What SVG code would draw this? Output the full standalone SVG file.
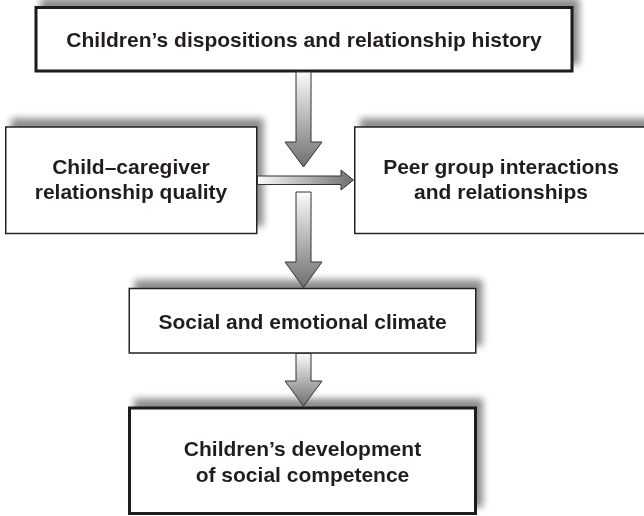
<svg xmlns="http://www.w3.org/2000/svg" width="644" height="516" viewBox="0 0 644 516">
  <defs>
    <!-- soft drop shadow cast up and to the right -->
    <filter id="shadow" x="-10%" y="-30%" width="120%" height="160%">
      <feGaussianBlur in="SourceAlpha" stdDeviation="3.5" result="b"/>
      <feOffset in="b" dx="6" dy="-8" result="o"/>
      <feComponentTransfer in="o" result="s">
        <feFuncA type="linear" slope="0.45"/>
      </feComponentTransfer>
      <feMerge>
        <feMergeNode in="s"/>
        <feMergeNode in="SourceGraphic"/>
      </feMerge>
    </filter>
    <linearGradient id="gradDown" x1="0" y1="0" x2="0" y2="1">
      <stop offset="0" stop-color="#fbfbfb"/>
      <stop offset="1" stop-color="#6f6f6f"/>
    </linearGradient>
    <linearGradient id="gradRight" x1="0" y1="0" x2="1" y2="0">
      <stop offset="0" stop-color="#fbfbfb"/>
      <stop offset="1" stop-color="#6f6f6f"/>
    </linearGradient>
  </defs>
  <style>
    .box { fill: #ffffff; stroke: #222222; stroke-width: 1.5; }
    .box-strong { fill: #ffffff; stroke: #1a1a1a; stroke-width: 3; }
    .label { font-family: "Liberation Sans", Arial, sans-serif; font-weight: bold; font-size: 21px; fill: #231f20; text-anchor: middle; }
    .arrow-v { fill: url(#gradDown); stroke: #333333; stroke-width: 1; stroke-linejoin: miter; }
    .arrow-h { fill: url(#gradRight); stroke: #333333; stroke-width: 1; stroke-linejoin: miter; }
  </style>

  <rect width="644" height="516" fill="#ffffff"/>

  <g id="node-dispositions" filter="url(#shadow)">
    <rect class="box-strong" x="36" y="7.5" width="536" height="63.5"/>
    <text class="label" x="304" y="46.5">Children’s dispositions and relationship history</text>
  </g>

  <g id="node-caregiver" filter="url(#shadow)">
    <rect class="box" x="5.75" y="127" width="251" height="106.5"/>
    <text class="label" x="131" y="174">Child–caregiver</text>
    <text class="label" x="131" y="199">relationship quality</text>
  </g>

  <g id="node-peer" filter="url(#shadow)">
    <rect class="box" x="354.75" y="127" width="296" height="106.5"/>
    <text class="label" x="501" y="174">Peer group interactions</text>
    <text class="label" x="501" y="199">and relationships</text>
  </g>

  <g id="node-climate" filter="url(#shadow)">
    <rect class="box" x="129.25" y="288.5" width="346.5" height="64.5"/>
    <text class="label" x="302.5" y="328.5">Social and emotional climate</text>
  </g>

  <g id="node-competence" filter="url(#shadow)">
    <rect class="box-strong" x="129.5" y="408" width="346" height="105.5"/>
    <text class="label" x="302.5" y="456">Children’s development</text>
    <text class="label" x="302.5" y="481.5">of social competence</text>
  </g>

  <g id="connectors">
    <!-- dispositions -> climate (upper segment) -->
    <path class="arrow-v" d="M296,72 H311 V142 H322 L303.5,167 L285,142 H296 Z"/>
    <!-- caregiver -> peer group -->
    <path class="arrow-h" d="M257.5,176 H341 V170 L353.5,180 L341,190 V184.5 H257.5 Z"/>
    <!-- lower segment into climate -->
    <path class="arrow-v" d="M296,192 H311 V262 H322 L303.5,287.5 L285,262 H296 Z"/>
    <!-- climate -> competence -->
    <path class="arrow-v" d="M296,353.5 H311 V381 H322 L303.5,406 L285,381 H296 Z"/>
  </g>
</svg>
